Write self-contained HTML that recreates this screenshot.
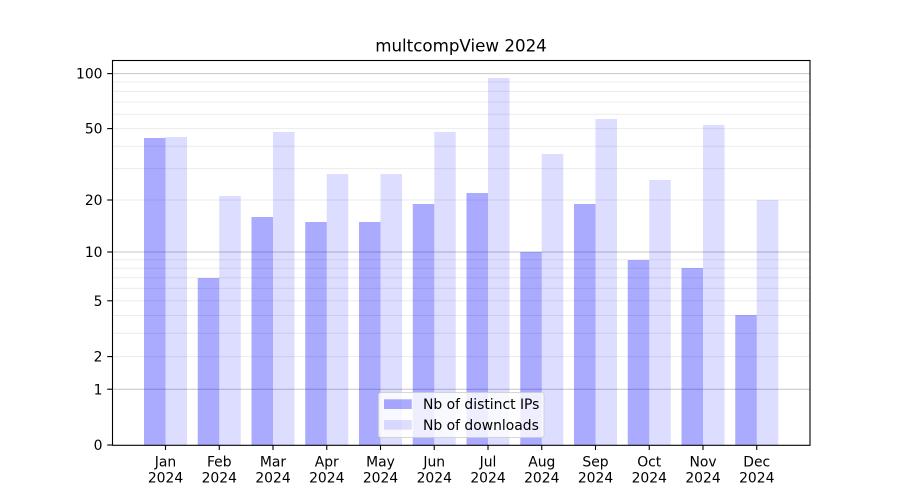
<!DOCTYPE html>
<html><head><meta charset="utf-8"><style>
html,body{margin:0;padding:0;background:#fff;}
svg{display:block;font-family:"DejaVu Sans","Liberation Sans",sans-serif;}
</style></head><body>
<svg width="900" height="500" viewBox="0 0 900 500" xmlns="http://www.w3.org/2000/svg">
<rect width="900" height="500" fill="#fff"/>
<!-- minor gridlines -->
<g stroke="#ebebeb" stroke-width="1">
<line x1="112" x2="810" y1="356.6" y2="356.6"/>
<line x1="112" x2="810" y1="333.4" y2="333.4"/>
<line x1="112" x2="810" y1="315.5" y2="315.5"/>
<line x1="112" x2="810" y1="300.8" y2="300.8"/>
<line x1="112" x2="810" y1="288.4" y2="288.4"/>
<line x1="112" x2="810" y1="277.7" y2="277.7"/>
<line x1="112" x2="810" y1="268.2" y2="268.2"/>
<line x1="112" x2="810" y1="259.7" y2="259.7"/>
<line x1="112" x2="810" y1="200.0" y2="200.0"/>
<line x1="112" x2="810" y1="168.6" y2="168.6"/>
<line x1="112" x2="810" y1="146.2" y2="146.2"/>
<line x1="112" x2="810" y1="128.6" y2="128.6"/>
<line x1="112" x2="810" y1="114.2" y2="114.2"/>
<line x1="112" x2="810" y1="102.0" y2="102.0"/>
<line x1="112" x2="810" y1="91.4" y2="91.4"/>
<line x1="112" x2="810" y1="82.0" y2="82.0"/>
</g>
<!-- major gridlines -->
<g stroke="#c4c4c4" stroke-width="1">
<line x1="112" x2="810" y1="389.2" y2="389.2"/>
<line x1="112" x2="810" y1="252.0" y2="252.0"/>
<line x1="112" x2="810" y1="73.6" y2="73.6"/>
</g>
<!-- dark bars (distinct IPs) -->
<g fill="#0000ff" fill-opacity="0.333">
<rect x="144.0" y="138" width="21.5" height="307"/>
<rect x="197.75" y="278" width="21.5" height="167"/>
<rect x="251.5" y="217" width="21.5" height="228"/>
<rect x="305.25" y="222" width="21.5" height="223"/>
<rect x="359.0" y="222" width="21.5" height="223"/>
<rect x="412.75" y="204" width="21.5" height="241"/>
<rect x="466.5" y="193" width="21.5" height="252"/>
<rect x="520.25" y="252" width="21.5" height="193"/>
<rect x="574.0" y="204" width="21.5" height="241"/>
<rect x="627.75" y="260" width="21.5" height="185"/>
<rect x="681.5" y="268" width="21.5" height="177"/>
<rect x="735.25" y="315" width="21.5" height="130"/>
</g>
<!-- light bars (downloads) -->
<g fill="#0000ff" fill-opacity="0.133">
<rect x="165.5" y="137" width="21.5" height="308"/>
<rect x="219.25" y="196" width="21.5" height="249"/>
<rect x="273.0" y="132" width="21.5" height="313"/>
<rect x="326.75" y="174" width="21.5" height="271"/>
<rect x="380.5" y="174" width="21.5" height="271"/>
<rect x="434.25" y="132" width="21.5" height="313"/>
<rect x="488.0" y="78" width="21.5" height="367"/>
<rect x="541.75" y="154" width="21.5" height="291"/>
<rect x="595.5" y="119" width="21.5" height="326"/>
<rect x="649.25" y="180" width="21.5" height="265"/>
<rect x="703.0" y="125" width="21.5" height="320"/>
<rect x="756.75" y="200" width="21.5" height="245"/>
</g>
<!-- axes frame -->
<rect x="112.5" y="60.5" width="697.5" height="384.8" fill="none" stroke="#000" stroke-width="1.1"/>
<!-- y ticks -->
<g stroke="#000" stroke-width="1.1">
<line x1="107.2" x2="112" y1="445" y2="445"/>
<line x1="107.2" x2="112" y1="389.2" y2="389.2"/>
<line x1="107.2" x2="112" y1="356.6" y2="356.6"/>
<line x1="107.2" x2="112" y1="300.8" y2="300.8"/>
<line x1="107.2" x2="112" y1="252.0" y2="252.0"/>
<line x1="107.2" x2="112" y1="200.0" y2="200.0"/>
<line x1="107.2" x2="112" y1="128.6" y2="128.6"/>
<line x1="107.2" x2="112" y1="73.6" y2="73.6"/>
</g>
<g font-size="13.9" fill="#000" text-anchor="end">
<text x="102.5" y="450.1">0</text>
<text x="102.5" y="394.3">1</text>
<text x="102.5" y="361.7">2</text>
<text x="102.5" y="305.9">5</text>
<text x="102.5" y="257.1">10</text>
<text x="102.5" y="205.1">20</text>
<text x="102.5" y="133.7">50</text>
<text x="102.5" y="78.7">100</text>
</g>
<!-- x ticks -->
<g stroke="#000" stroke-width="1.1">
<line x1="165.5" x2="165.5" y1="445" y2="450"/>
<line x1="219.25" x2="219.25" y1="445" y2="450"/>
<line x1="273.0" x2="273.0" y1="445" y2="450"/>
<line x1="326.75" x2="326.75" y1="445" y2="450"/>
<line x1="380.5" x2="380.5" y1="445" y2="450"/>
<line x1="434.25" x2="434.25" y1="445" y2="450"/>
<line x1="488.0" x2="488.0" y1="445" y2="450"/>
<line x1="541.75" x2="541.75" y1="445" y2="450"/>
<line x1="595.5" x2="595.5" y1="445" y2="450"/>
<line x1="649.25" x2="649.25" y1="445" y2="450"/>
<line x1="703.0" x2="703.0" y1="445" y2="450"/>
<line x1="756.75" x2="756.75" y1="445" y2="450"/>
</g>
<g font-size="13.9" fill="#000" text-anchor="middle">
<text x="165.5" y="466.7">Jan</text><text x="165.5" y="482.7">2024</text>
<text x="219.25" y="466.7">Feb</text><text x="219.25" y="482.7">2024</text>
<text x="273.0" y="466.7">Mar</text><text x="273.0" y="482.7">2024</text>
<text x="326.75" y="466.7">Apr</text><text x="326.75" y="482.7">2024</text>
<text x="380.5" y="466.7">May</text><text x="380.5" y="482.7">2024</text>
<text x="434.25" y="466.7">Jun</text><text x="434.25" y="482.7">2024</text>
<text x="488.0" y="466.7">Jul</text><text x="488.0" y="482.7">2024</text>
<text x="541.75" y="466.7">Aug</text><text x="541.75" y="482.7">2024</text>
<text x="595.5" y="466.7">Sep</text><text x="595.5" y="482.7">2024</text>
<text x="649.25" y="466.7">Oct</text><text x="649.25" y="482.7">2024</text>
<text x="703.0" y="466.7">Nov</text><text x="703.0" y="482.7">2024</text>
<text x="756.75" y="466.7">Dec</text><text x="756.75" y="482.7">2024</text>
</g>
<!-- title -->
<text x="461" y="51.3" font-size="16.7" text-anchor="middle" fill="#000">multcompView 2024</text>
<!-- legend -->
<rect x="378.5" y="392.5" width="165.5" height="45" rx="2.5" ry="2.5" fill="#fff" fill-opacity="0.8" stroke="#cccccc" stroke-opacity="0.8" stroke-width="1"/>
<rect x="384" y="399.3" width="27.8" height="9.7" fill="#0000ff" fill-opacity="0.333"/>
<rect x="384" y="420" width="27.8" height="9.7" fill="#0000ff" fill-opacity="0.133"/>
<g font-size="13.9" fill="#000">
<text x="423" y="409">Nb of distinct IPs</text>
<text x="423" y="430">Nb of downloads</text>
</g>
</svg>
</body></html>
